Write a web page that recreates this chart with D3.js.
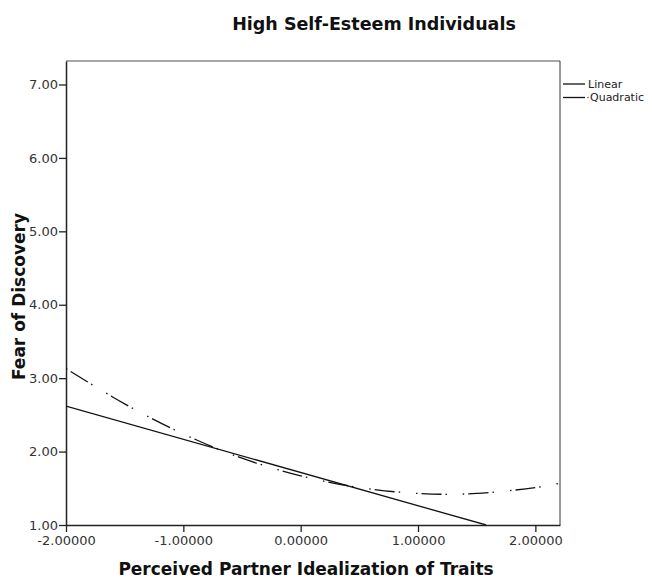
<!DOCTYPE html>
<html><head><meta charset="utf-8">
<script src="https://cdn.jsdelivr.net/npm/d3@7"></script>
<style>body{margin:0;background:#fff}svg{display:block}</style>
</head><body><svg id="c" width="652" height="580"></svg>
<script>
const title = "High Self-Esteem Individuals";
const xLabel = "Perceived Partner Idealization of Traits";
const yLabel = "Fear of Discovery";
const xTicks = [-2, -1, 0, 1, 2];
const yTicks = [1, 2, 3, 4, 5, 6, 7];
const linearX = [-2, 1.58];
const linearY = [2.62, 1.00];
const quadX = [-2, -1.5, -1, -0.5, 0, 0.5, 1, 1.5, 2, 2.21];
const quadY = [3.13, 2.65, 2.24, 1.91, 1.67, 1.51, 1.43, 1.43, 1.51, 1.57];
const legendLabels = ["Linear", "Quadratic"];

const svg = d3.select("#c");
const m = {l: 66, r: 560, t: 61, b: 525};
const x = d3.scaleLinear().domain([-2, 2.21]).range([m.l, m.r]);
const y = d3.scaleLinear().domain([1, 7.32]).range([m.b, m.t]);
const font = "DejaVu Sans, Verdana, sans-serif";

// frame top & right
svg.append("line").attr("x1", m.l).attr("x2", m.r).attr("y1", m.t).attr("y2", m.t).attr("stroke", "#888").attr("stroke-width", 1.5);
svg.append("line").attr("x1", m.r).attr("x2", m.r).attr("y1", m.t).attr("y2", m.b).attr("stroke", "#333").attr("stroke-width", 1);

const xAxis = svg.append("g").attr("transform", `translate(0,${m.b})`)
  .call(d3.axisBottom(x).tickValues(xTicks).tickSize(7).tickSizeOuter(0).tickFormat(d => d3.format(".5f")(d).replace("−", "-")));
const yAxis = svg.append("g").attr("transform", `translate(${m.l},0)`)
  .call(d3.axisLeft(y).tickValues(yTicks).tickSize(7).tickSizeOuter(0).tickFormat(d3.format(".2f")));
[xAxis, yAxis].forEach(g => {
  g.select(".domain").attr("stroke", "#222").attr("stroke-width", 1.5);
  g.selectAll(".tick line").attr("stroke", "#222").attr("stroke-width", 1.3);
  g.selectAll(".tick text").attr("font-family", font).attr("font-size", 13).attr("fill", "#333");
});
xAxis.selectAll(".tick text").attr("dy", "0.8em");
yAxis.selectAll(".tick text").attr("x", -8);

svg.append("clipPath").attr("id", "pc").append("rect")
  .attr("x", m.l).attr("y", m.t).attr("width", m.r - m.l).attr("height", m.b - m.t);

const line = d3.line().x(d => x(d[0])).y(d => y(d[1]));
svg.append("path").datum(d3.zip(linearX, linearY)).attr("d", line)
  .attr("fill", "none").attr("stroke", "#111").attr("stroke-width", 1.3).attr("clip-path", "url(#pc)");
svg.append("path").datum(d3.zip(quadX, quadY)).attr("d", line.curve(d3.curveNatural))
  .attr("fill", "none").attr("stroke", "#111").attr("stroke-width", 1.3)
  .attr("stroke-dasharray", "1.5,4,20,4,1.5,16").attr("clip-path", "url(#pc)");

// legend
const leg = svg.append("g");
legendLabels.forEach((t, i) => {
  const ly = 84 + i * 13.5;
  leg.append("line").attr("x1", 563).attr("x2", 585).attr("y1", ly).attr("y2", ly).attr("stroke", "#111").attr("stroke-width", 1.3);
  if (i === 1) leg.append("circle").attr("cx", 588).attr("cy", ly).attr("r", 0.7).attr("fill", "#333");
  leg.append("text").attr("x", i === 1 ? 590 : 588).attr("y", ly).attr("dy", "0.35em")
    .attr("font-family", font).attr("font-size", 11).attr("fill", "#222").text(t);
});

svg.append("text").attr("x", 374).attr("y", 30).attr("text-anchor", "middle")
  .attr("font-family", font).attr("font-weight", "bold").attr("font-size", 17.5).attr("fill", "#111").text(title);
svg.append("text").attr("x", 306).attr("y", 575).attr("text-anchor", "middle")
  .attr("font-family", font).attr("font-weight", "bold").attr("font-size", 17).attr("fill", "#111").text(xLabel);
svg.append("text").attr("transform", `translate(25,296.5) rotate(-90)`).attr("text-anchor", "middle")
  .attr("font-family", font).attr("font-weight", "bold").attr("font-size", 17).attr("fill", "#111").text(yLabel);
</script></body></html>
